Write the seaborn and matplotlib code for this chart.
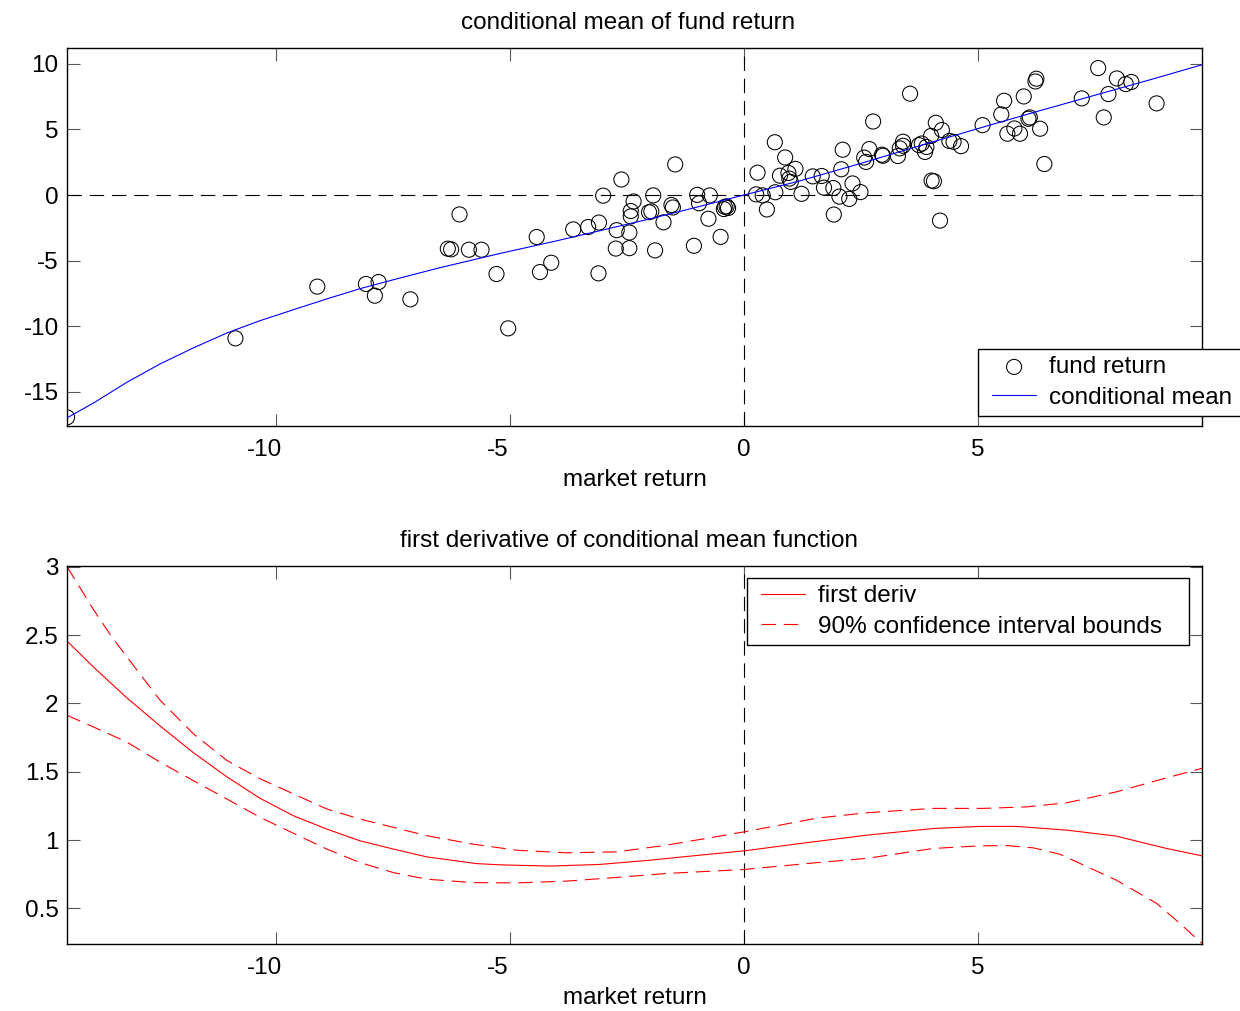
import numpy as np
import pandas as pd
import matplotlib
matplotlib.use("Agg")
import matplotlib.pyplot as plt
import matplotlib.transforms as mtrans
from matplotlib.lines import Line2D
from matplotlib.collections import PathCollection
from matplotlib.legend_handler import HandlerLine2D, HandlerPathCollection
import seaborn as sns

# ---------------- data ----------------
mkt = [-14.47, -10.87, -9.12, -8.08, -7.81, -7.89, -7.13, -6.08, -6.33, -6.26,
       -5.88, -5.61, -5.29, -5.04, -4.43, -4.36, -4.12, -3.65, -3.33, -3.10,
       -3.11, -3.01, -2.62, -2.72, -2.74, -2.45, -2.45, -2.42, -2.42, -2.36,
       -2.03, -1.98, -1.94, -1.90, -1.72, -1.55, -1.52, -1.47, -1.07, -1.00,
       -0.96, -0.73, -0.76, -0.50, -0.41, -0.37, -0.34, -0.43, 0.29, 0.26,
       0.40, 0.49, 0.66, 0.88, 0.67, 0.77, 0.95, 1.10, 0.97, 1.00,
       1.23, 1.47, 1.66, 1.71, 1.91, 1.92, 2.04, 2.08, 2.11, 2.25,
       2.32, 2.49, 2.57, 2.61, 2.68, 2.76, 2.95, 2.97, 3.29, 3.33,
       3.40, 3.40, 3.55, 3.74, 3.80, 3.87, 3.90, 4.00, 4.01, 4.06,
       4.10, 4.23, 4.19, 4.39, 4.48, 4.64, 5.10, 5.50, 5.56, 5.63,
       5.78, 5.90, 5.98, 6.08, 6.11, 6.23, 6.25, 6.33, 6.42, 7.22,
       7.57, 7.69, 7.79, 7.97, 8.16, 8.28, 8.82]
fund = [-16.94, -10.92, -6.98, -6.78, -6.63, -7.67, -7.95, -1.48, -4.09, -4.14,
        -4.17, -4.17, -6.02, -10.16, -3.20, -5.87, -5.16, -2.62, -2.44, -2.10,
        -5.97, -0.05, 1.18, -2.68, -4.08, -4.05, -2.86, -1.63, -1.22, -0.49,
        -1.31, -1.25, -0.03, -4.22, -2.08, -0.76, -0.95, 2.33, -3.87, 0.01,
        -0.63, -0.03, -1.81, -3.19, -0.90, -0.87, -0.99, -1.07, 1.70, 0.05,
        -0.03, -1.10, 4.02, 2.86, 0.21, 1.47, 1.68, 1.99, 1.25, 1.00,
        0.09, 1.42, 1.45, 0.56, 0.53, -1.49, -0.12, 1.96, 3.45, -0.30,
        0.88, 0.22, 2.85, 2.52, 3.50, 5.60, 3.07, 2.99, 2.97, 3.55,
        4.06, 3.75, 7.72, 3.80, 3.92, 3.28, 3.66, 4.50, 1.10, 1.05,
        5.50, 4.95, -1.95, 4.12, 4.05, 3.72, 5.32, 6.14, 7.18, 4.67,
        5.07, 4.67, 7.51, 5.81, 5.91, 8.65, 8.86, 5.05, 2.36, 7.36,
        9.67, 5.91, 7.69, 8.88, 8.45, 8.61, 6.98]

cm_x = [-14.47, -13.9, -13.19, -12.48, -11.77, -11.05, -10.34, -9.63, -8.92, -8.21,
        -7.35, -6.5, -5.21, -4.0, -3.08, -2.0, -1.0, 0.0, 1.2, 2.5,
        3.8, 5.04, 6.3, 7.5, 8.7, 9.79]
cm_y = [-16.98, -15.84, -14.27, -12.87, -11.65, -10.51, -9.57, -8.74, -7.92, -7.14,
        -6.32, -5.54, -4.45, -3.49, -2.72, -1.81, -0.92, 0.0, 1.08, 2.41,
        3.8, 5.1, 6.4, 7.6, 8.8, 9.92]

d_x = [-14.47, -13.9, -13.19, -12.48, -11.77, -11.05, -10.34, -9.63, -8.92, -8.21,
       -7.49, -6.78, -5.71, -5.21, -4.15, -3.08, -2.01, -0.94, 0.0, 1.2,
       2.62, 4.05, 5.03, 5.83, 6.9, 7.96, 9.03, 9.79]
d_mid = [2.456, 2.265, 2.04, 1.835, 1.64, 1.462, 1.305, 1.178, 1.081, 0.995,
         0.934, 0.877, 0.828, 0.819, 0.81, 0.822, 0.853, 0.89, 0.921, 0.975,
         1.036, 1.085, 1.10, 1.10, 1.073, 1.029, 0.939, 0.885]

u_x = [-14.47, -13.9, -13.54, -13.19, -12.48, -11.77, -11.05, -10.34, -9.63, -8.92,
       -8.21, -7.49, -6.78, -5.78, -4.86, -3.79, -2.72, -1.65, 0.0, 1.55,
       2.62, 4.05, 5.12, 6.04, 6.9, 7.96, 9.03, 9.79]
d_up = [3.0, 2.684, 2.5, 2.34, 2.023, 1.778, 1.582, 1.448, 1.338, 1.228,
        1.154, 1.093, 1.032, 0.97, 0.926, 0.907, 0.914, 0.963, 1.06, 1.16,
        1.20, 1.232, 1.232, 1.243, 1.273, 1.353, 1.455, 1.525]

l_x = [-14.47, -13.9, -13.19, -12.48, -11.77, -11.05, -10.34, -9.63, -8.92, -8.21,
       -7.49, -6.78, -5.78, -4.86, -3.79, -2.72, -1.65, 0.0, 1.55, 2.62,
       4.05, 5.03, 5.62, 6.19, 6.75, 7.26, 7.96, 8.82, 9.32, 9.79]
d_lo = [1.913, 1.827, 1.717, 1.57, 1.435, 1.30, 1.166, 1.05, 0.935, 0.836,
        0.762, 0.714, 0.689, 0.687, 0.70, 0.727, 0.756, 0.785, 0.835, 0.866,
        0.939, 0.958, 0.96, 0.943, 0.897, 0.817, 0.707, 0.537, 0.39, 0.244]

x_ticks = [-10, -5, 0, 5]
top_yticks = [-15, -10, -5, 0, 5, 10]
bot_yticks = [0.5, 1, 1.5, 2, 2.5, 3]
bot_yticklabels = ["0.5", "1", "1.5", "2", "2.5", "3"]

# ---------------- style ----------------
sns.set_theme(style="white")
plt.rcParams["font.family"] = ["Liberation Sans", "DejaVu Sans"]
plt.rcParams["axes.unicode_minus"] = False
for k in ("text.color", "axes.labelcolor", "xtick.color", "ytick.color"):
    plt.rcParams[k] = "black"
FS = 17.5

W, H = 1240, 1011
fig = plt.figure(figsize=(W / 100, H / 100), dpi=100)
L, R = 67, 1202
ax1 = fig.add_axes([L / W, 1 - 426 / H, (R - L) / W, 378 / H])
ax2 = fig.add_axes([L / W, 1 - 944 / H, (R - L) / W, 378 / H])
TITLE_X = 0.5 - 6 / (R - L)

XLIM = (-14.47, 9.79)
dash_kw = dict(color="black", lw=0.8, dashes=(13, 7), zorder=1)
hmap = {Line2D: HandlerLine2D(xpad=0.27),
        PathCollection: HandlerPathCollection(xpad=0.27)}
leg_kw = dict(loc="upper left", bbox_transform=fig.transFigure, borderaxespad=0,
              mode="expand", fontsize=FS, frameon=True, fancybox=False,
              framealpha=1, edgecolor="black", handlelength=2.1,
              handletextpad=0.52, borderpad=0.3, labelspacing=0.34,
              handler_map=hmap)


def box(x0, y0, x1, y1):
    """legend box from pixel corners (top-left origin) to figure fraction"""
    return (x0 / W, 1 - y1 / H, (x1 - x0) / W, (y1 - y0) / H)


# --- top panel ---
ax1.axhline(0, **dash_kw)
ax1.axvline(0, **dash_kw)
sns.scatterplot(x=mkt, y=fund, ax=ax1, marker="o", s=118, facecolors="none",
                edgecolor="black", linewidth=0.75, label="fund return", zorder=3)
sns.lineplot(x=cm_x, y=cm_y, ax=ax1, color="#0000ff", lw=0.8,
             label="conditional mean", zorder=4)
ax1.set_xlim(*XLIM)
ax1.set_ylim(-17.6, 11.2)
ax1.set_yticks(top_yticks)
ax1.set_title("conditional mean of fund return", fontsize=FS, pad=14, x=TITLE_X)
ax1.set_xlabel("market return", fontsize=FS, labelpad=5.7)
leg1 = ax1.legend(bbox_to_anchor=box(978, 349, 1252, 412), scatterpoints=1, **leg_kw)
leg1.get_frame().set_linewidth(1.0)

# --- bottom panel ---
ax2.axvline(0, **dash_kw)
sns.lineplot(x=d_x, y=d_mid, ax=ax2, color="red", lw=0.8, label="first deriv")
sns.lineplot(x=u_x, y=d_up, ax=ax2, color="red", lw=0.8,
             label="90% confidence interval bounds")
sns.lineplot(x=l_x, y=d_lo, ax=ax2, color="red", lw=0.8)
for ln in ax2.get_lines()[2:]:
    ln.set_dashes((13, 7))
ax2.set_xlim(*XLIM)
ax2.set_ylim(0.24, 3.005)
ax2.set_yticks(bot_yticks)
ax2.set_yticklabels(bot_yticklabels)
ax2.set_title("first derivative of conditional mean function", fontsize=FS,
              pad=14, x=TITLE_X)
ax2.set_xlabel("market return", fontsize=FS, labelpad=5.7)
h, l = ax2.get_legend_handles_labels()
leg2 = ax2.legend(h[:2], l[:2], bbox_to_anchor=box(747, 578, 1189, 642), **leg_kw)
leg2.get_frame().set_linewidth(1.0)

for ax in (ax1, ax2):
    ax.set_xticks(x_ticks)
    ax.set_xticklabels([str(t) for t in x_ticks])
    ax.tick_params(axis="both", direction="in", length=9, width=0.8,
                   color="0.35", labelcolor="black", labelsize=FS,
                   top=True, right=True, bottom=True, left=True)
    ax.tick_params(axis="x", pad=9.7)
    ax.tick_params(axis="y", pad=6.0)
    for sp in ax.spines.values():
        sp.set_visible(True)
        sp.set_color("black")
        sp.set_linewidth(1.0)
    # negative x labels sit slightly left of their ticks in the reference
    off = mtrans.ScaledTranslation(-12 / 100, 0, fig.dpi_scale_trans)
    for t, lab in zip(x_ticks, ax.get_xticklabels()):
        if t < 0:
            lab.set_transform(lab.get_transform() + off)

fig.savefig("out.png", dpi=100)
